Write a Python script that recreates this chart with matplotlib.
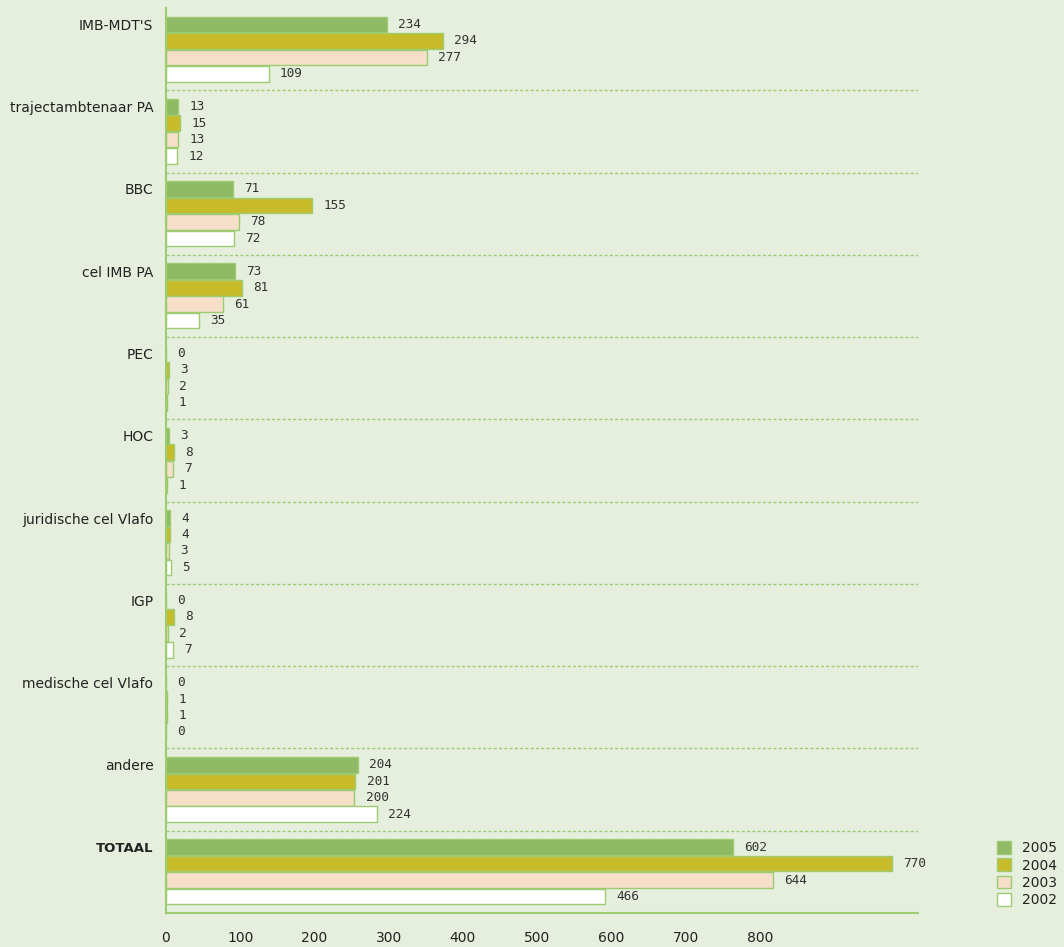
import matplotlib.pyplot as plt
import numpy as np

# categorieën en waarden per jaar
categories = ["IMB-MDT'S", "trajectambtenaar PA", "BBC", "cel IMB PA", "PEC", "HOC",
              "juridische cel Vlafo", "IGP", "medische cel Vlafo", "andere", "TOTAAL"]
years = ["2005", "2004", "2003", "2002"]
v2005 = [234, 13, 71, 73, 0, 3, 4, 0, 0, 204, 602]
v2004 = [294, 15, 155, 81, 3, 8, 4, 8, 1, 201, 770]
v2003 = [277, 13, 78, 61, 2, 7, 3, 2, 1, 200, 644]
v2002 = [109, 12, 72, 35, 1, 1, 5, 7, 0, 224, 466]
tick_labels = [0, 100, 200, 300, 400, 500, 600, 700, 800]

series = [v2005, v2004, v2003, v2002]
colors = ['#8fba65', '#c8bb2a', '#f5dfc9', '#ffffff']
edge = '#9ccb70'
bg = '#e6efdd'
txt = '#222222'

# de as-labels in het origineel staan op een andere schaal dan de balken
tick_scale = 0.7877

fig = plt.figure(figsize=(10.64, 9.47), dpi=100, facecolor=bg)
ax = fig.add_axes([0.156, 0.0359, 0.7068, 0.9557], facecolor=bg)

n = len(categories)
idx = np.arange(n)
for j, (vals, c) in enumerate(zip(series, colors)):
    ypos = idx + 0.2 + 0.2 * j
    ax.barh(ypos, vals, height=0.19, color=c, edgecolor=edge, linewidth=1.0, label=years[j])
    for y, v in zip(ypos, vals):
        ax.annotate(str(v), (v, y), xytext=(8, 0), textcoords='offset points',
                    ha='left', va='center', fontsize=9.2, family='DejaVu Sans Mono', color='#333333')

# stippellijnen tussen de groepen
for i in range(1, n):
    ax.axhline(i, color='#9ccb70', linestyle=(0, (2.2, 1.6)), linewidth=1)

ax.set_ylim(n, 0)
ax.set_xlim(0, 798)
ax.set_yticks(idx + 0.2)
ax.set_yticklabels(categories, fontsize=10, color=txt)
ax.get_yticklabels()[-1].set_fontweight('heavy')
ax.get_yticklabels()[-1].set_fontsize(9.5)
ax.set_xticks(np.array(tick_labels) * tick_scale)
ax.set_xticklabels([str(t) for t in tick_labels], fontsize=10, color=txt)
ax.tick_params(axis='y', length=0, pad=9)
ax.tick_params(axis='x', length=0, pad=13)

for s in ['top', 'right']:
    ax.spines[s].set_visible(False)
for s in ['left', 'bottom']:
    ax.spines[s].set_color('#9ccb70')
    ax.spines[s].set_linewidth(1.5)

fig.legend(loc='center left', bbox_to_anchor=(0.925, 0.077), frameon=False,
           fontsize=10, handlelength=1.05, handleheight=1.05, handletextpad=0.8,
           labelspacing=0.22, labelcolor=txt)

fig.savefig('out.png', dpi=100, facecolor=bg)
